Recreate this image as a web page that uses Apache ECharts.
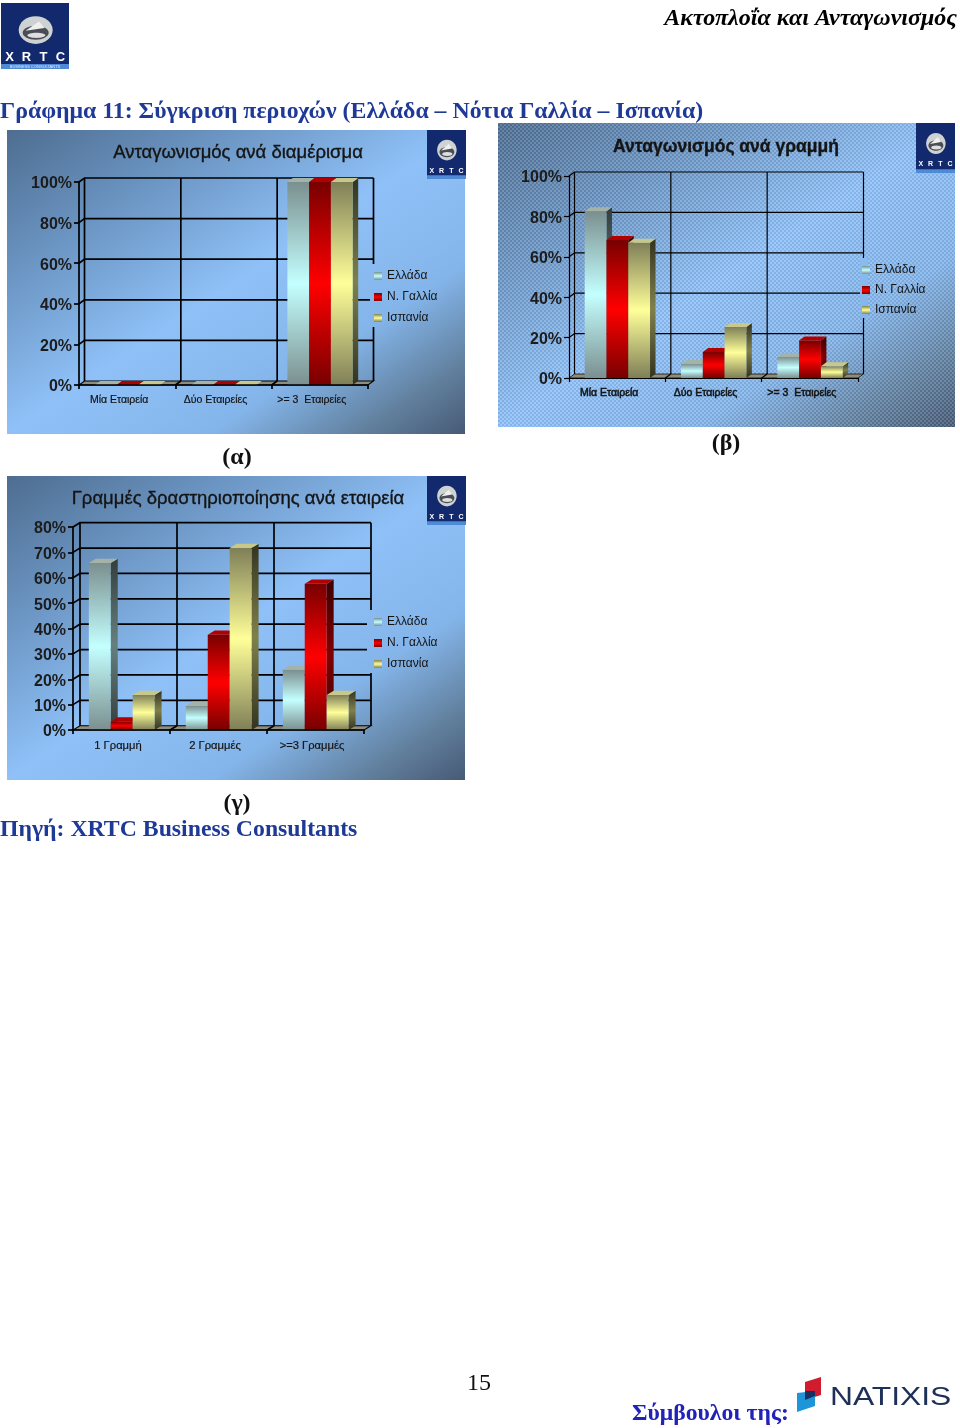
<!DOCTYPE html>
<html>
<head>
<meta charset="utf-8">
<style>html,body{margin:0;padding:0;background:#fff}#c{width:960px;height:1428px}</style>
<script src="https://cdn.jsdelivr.net/npm/echarts@6/dist/echarts.min.js"></script>
</head>
<body>
<div id="c"></div>
<script>
// ---- data ----
const seriesNames = ['Ελλάδα', 'Ν. Γαλλία', 'Ισπανία'];

const titleA = 'Ανταγωνισμός ανά διαμέρισμα';
const categoriesA = ['Μία Εταιρεία', 'Δύο Εταιρείες', '>= 3  Εταιρείες'];
const greeceA = [0, 0, 100];
const franceA = [0, 0, 100];
const spainA = [0, 0, 100];
const ticksA = [0, 20, 40, 60, 80, 100];

const titleB = 'Ανταγωνισμός ανά γραμμή';
const categoriesB = ['Μία Εταιρεία', 'Δύο Εταιρείες', '>= 3  Εταιρείες'];
const greeceB = [82.5, 6.9, 10.4];
const franceB = [68.3, 12.9, 18.6];
const spainB = [67, 25.2, 5.8];
const ticksB = [0, 20, 40, 60, 80, 100];

const titleC = 'Γραμμές δραστηριοποίησης ανά εταιρεία';
const categoriesC = ['1 Γραμμή', '2 Γραμμές', '>=3 Γραμμές'];
const greeceC = [65.8, 9.5, 23.7];
const franceC = [3.3, 37.5, 57.6];
const spainC = [13.8, 71.7, 13.8];
const ticksC = [0, 10, 20, 30, 40, 50, 60, 70, 80];

// ---- styling ----
const SANS = '"Liberation Sans", Arial, sans-serif';
const SERIF = '"Liberation Serif", "Times New Roman", serif';
const BLUE = '#1f3a96';
const ramps = [
  { end: '#7b8f8f', mid: '#c4ffff', sideEnd: '#333d3d', sideMid: '#66807f', top: '#a3b3a8' },
  { end: '#780000', mid: '#ff0000', sideEnd: '#3c0000', sideMid: '#800000', top: '#b00000' },
  { end: '#7f7f58', mid: '#ffff99', sideEnd: '#33331f', sideMid: '#80804c', top: '#c8c88a' }
];
function vgrad(a, b) {
  return { type: 'linear', x: 0, y: 0, x2: 0, y2: 1,
    colorStops: [{ offset: 0, color: a }, { offset: 0.5, color: b }, { offset: 1, color: a }] };
}

const panels = [
  { key: 'a', x: 7, y: 130, w: 458, h: 304 },
  { key: 'b', x: 498, y: 123, w: 457, h: 304 },
  { key: 'c', x: 7, y: 476, w: 458, h: 304 }
];
function panelGradient(p) {
  const n = Math.hypot(p.w, p.h), nx = p.h / n, ny = p.w / n, len = 2 * p.w * p.h / n;
  return new echarts.graphic.LinearGradient(p.x, p.y, p.x + nx * len, p.y + ny * len, [
    { offset: 0, color: '#4e6d90' }, { offset: 0.25, color: '#6c96c4' },
    { offset: 0.5, color: '#8fc1f8' }, { offset: 0.72, color: '#84b5ea' },
    { offset: 0.88, color: '#62819f' }, { offset: 1, color: '#475a75' }
  ], true);
}
function dither() {
  const cv = document.createElement('canvas'); cv.width = 4; cv.height = 4;
  const g = cv.getContext('2d');
  g.fillStyle = 'rgba(255,255,255,0.14)'; g.fillRect(0, 0, 2, 2); g.fillRect(2, 2, 2, 2);
  g.fillStyle = 'rgba(0,20,60,0.08)'; g.fillRect(2, 0, 2, 2); g.fillRect(0, 2, 2, 2);
  return cv;
}

function logo(x, y, w, h, big) {
  const s = w / 68;
  const kids = [
    { type: 'rect', shape: { x: 0, y: 0, width: w, height: h }, style: { fill: '#12296e' } },
    { type: 'rect', shape: { x: 0, y: h * 0.925, width: w, height: h * 0.075 }, style: { fill: '#4f8ad6' } },
    { type: 'ellipse', shape: { cx: w * 0.51, cy: h * 0.41, rx: 17 * s, ry: h * 0.21 }, style: { fill: '#cfd2d2' } },
    { type: 'ellipse', shape: { cx: w * 0.51, cy: h * 0.45, rx: 13 * s, ry: h * 0.105 }, style: { fill: '#4a4d55' } },
    { type: 'ellipse', shape: { cx: w * 0.52, cy: h * 0.49, rx: 9 * s, ry: h * 0.04 }, style: { fill: '#dedede' } },
    { type: 'polygon', shape: { points: [[w * 0.36, h * 0.42], [w * 0.56, h * 0.28], [w * 0.64, h * 0.38]] }, style: { fill: '#efefef' } }
  ];
  ['X', 'R', 'T', 'C'].forEach(function (ch, i) {
    kids.push({ type: 'text', style: { x: w * (0.125 + i * 0.25), y: h * 0.83, text: ch, fill: '#fff', align: 'center', verticalAlign: 'middle',
      font: 'bold ' + Math.max(7, Math.round(13 * s)) + 'px ' + SANS } });
  });
  if (big) kids.push({ type: 'text', style: { x: w / 2, y: h * 0.965, text: 'BUSINESS CONSULTANTS', fill: '#dce8f8',
    align: 'center', verticalAlign: 'middle', font: '4px ' + SANS } });
  return { type: 'group', x: x, y: y, z: 8, silent: true, children: kids };
}
function txt(x, y, text, font, fill, align) {
  return { type: 'text', z: 8, silent: true, style: { x: x, y: y + 1, text: text, font: font, fill: fill || '#000',
    align: align || 'left', verticalAlign: 'middle' } };
}

// ---- build ----
const charts = [
  { title: titleA, cats: categoriesA, vals: [greeceA, franceA, spainA], ticks: ticksA, max: 100, interval: 20,
    left: 79, top: 182, width: 289, height: 203, dx: 5.5, dy: 4, lw: 1.7, bold: 0,
    titleX: 238, titleY: 153, titleW: 'normal', titleS: 18.5, catSize: 10.5,
    lx: 374, ly: 269, gap: 7, labelPad: 16, patch: [370, 264, 8, 63] },
  { title: titleB, cats: categoriesB, vals: [greeceB, franceB, spainB], ticks: ticksB, max: 100, interval: 20,
    left: 569, top: 176, width: 289, height: 202, dx: 5.5, dy: 4, lw: 1.2, bold: 0.5,
    titleX: 726, titleY: 147, titleW: 'bold', titleS: 17.5, catSize: 10.5,
    lx: 862, ly: 263, gap: 6, labelPad: 16, patch: [860, 258, 8, 60] },
  { title: titleC, cats: categoriesC, vals: [greeceC, franceC, spainC], ticks: ticksC, max: 80, interval: 10,
    left: 73, top: 527, width: 291, height: 203, dx: 7, dy: 4.3, lw: 1.7, bold: 0,
    titleX: 238, titleY: 499, titleW: 'normal', titleS: 18.5, catSize: 11.2,
    lx: 374, ly: 615, gap: 7, labelPad: 7, patch: [367, 610, 8, 63] }
];

const option = { animation: false, backgroundColor: '#fff', title: [], grid: [], xAxis: [], yAxis: [], legend: [], series: [], graphic: [] };
const g = option.graphic;

panels.forEach(function (p) {
  g.push({ type: 'rect', z: -2, silent: true, shape: { x: p.x, y: p.y, width: p.w, height: p.h }, style: { fill: panelGradient(p) } });
});
const pb = panels[1];
g.push({ type: 'rect', z: -1, silent: true, shape: { x: pb.x, y: pb.y, width: pb.w, height: pb.h },
  style: { fill: { image: dither(), repeat: 'repeat' } } });

charts.forEach(function (c, i) {
  option.title.push({ text: c.title, left: c.titleX, top: c.titleY, textAlign: 'center', textVerticalAlign: 'middle', padding: 0, z: 8,
    textStyle: { fontFamily: SANS, fontSize: c.titleS, fontWeight: c.titleW, color: '#141414', textBorderColor: '#141414', textBorderWidth: 0.35 } });
  option.grid.push({ left: c.left, top: c.top, width: c.width, height: c.height, containLabel: false, show: false });
  option.xAxis.push({ type: 'category', gridIndex: i, data: c.cats,
    axisLine: { show: true, onZero: false, lineStyle: { color: '#000', width: c.lw } },
    axisTick: { show: true, length: 4, lineStyle: { color: '#000', width: c.lw } },
    splitLine: { show: false },
    axisLabel: { show: true, interval: 0, margin: 8, fontFamily: SANS, fontSize: c.catSize, color: '#141414',
      textBorderColor: '#141414', textBorderWidth: c.bold ? 0.5 : 0.2, padding: [2, c.labelPad, 0, 0] }, z: 5 });
  option.yAxis.push({ type: 'value', gridIndex: i, min: 0, max: c.max, interval: c.interval,
    axisLine: { show: true, lineStyle: { color: '#000', width: c.lw } },
    axisTick: { show: true, length: 5, lineStyle: { color: '#000', width: c.lw } },
    splitLine: { show: false },
    axisLabel: { show: true, margin: 7, fontFamily: SANS, fontSize: 16, fontWeight: 'bold', color: '#1c1c1c',
      verticalAlign: 'top', lineHeight: 4, formatter: '{value}%' }, z: 5 });
  option.legend.push({ orient: 'vertical', left: c.lx, top: c.ly, padding: 0, itemGap: c.gap, itemWidth: 8, itemHeight: 8, icon: 'rect',
    selectedMode: false, z: 9, data: seriesNames.slice(),
    textStyle: { fontFamily: SANS, fontSize: 12, color: '#141414', lineHeight: 14, padding: [0, 0, 0, 0] } });

  // walls: back grid, left connectors, floor
  option.series.push({
    type: 'custom', name: 'walls' + i, coordinateSystem: 'cartesian2d', xAxisIndex: i, yAxisIndex: i, z: 1, silent: true,
    clip: false, data: c.ticks.map(function (t) { return [0, t]; }), encode: { x: 0, y: 1 },
    renderItem: function (params, api) {
      const cs = params.coordSys, xL = cs.x, xR = cs.x + cs.width;
      const v = api.value(1), y = api.coord([0, v])[1], kids = [];
      const line = { stroke: '#000', lineWidth: c.lw, fill: null };
      if (v === 0) {
        kids.push({ type: 'polygon', shape: { points: [[xL, y], [xR, y], [xR + c.dx, y - c.dy], [xL + c.dx, y - c.dy]] },
          style: { fill: '#8f8d7c', stroke: '#000', lineWidth: c.lw * 0.6 } });
        const yTop = api.coord([0, c.max])[1];
        for (let k = 0; k <= 3; k++) {
          const xk = xL + k * cs.width / 3;
          kids.push({ type: 'line', shape: { x1: xk + c.dx, y1: y - c.dy, x2: xk + c.dx, y2: yTop - c.dy }, style: line });
          if (k > 0 && k < 3) kids.push({ type: 'line', shape: { x1: xk, y1: y, x2: xk + c.dx, y2: y - c.dy }, style: line });
        }
      } else {
        kids.push({ type: 'polyline', shape: { points: [[xL, y], [xL + c.dx, y - c.dy], [xR + c.dx, y - c.dy]] }, style: line });
      }
      return { type: 'group', children: kids };
    }
  });

  // 3-D columns
  seriesNames.forEach(function (name, si) {
    const r = ramps[si];
    option.series.push({
      type: 'custom', name: name, coordinateSystem: 'cartesian2d', xAxisIndex: i, yAxisIndex: i, z: 3 + si, silent: true, clip: false,
      itemStyle: { color: vgrad(r.end, r.mid) },
      data: c.vals[si].map(function (v, k) { return [k, v]; }), encode: { x: 0, y: 1 },
      renderItem: function (params, api) {
        const band = api.size([1, 0])[0], w = band * 0.226;
        const bottom = api.coord([api.value(0), 0]), top = api.coord([api.value(0), api.value(1)]);
        const x0 = bottom[0] + (si - 1.5) * w + 0.2, x1 = x0 + w, y0 = bottom[1], y1 = top[1];
        const kids = [];
        if (y0 - y1 > 0.1) {
          kids.push({ type: 'polygon', shape: { points: [[x1, y1], [x1 + c.dx, y1 - c.dy], [x1 + c.dx, y0 - c.dy], [x1, y0]] },
            style: { fill: vgrad(r.sideEnd, r.sideMid) } });
          kids.push({ type: 'rect', shape: { x: x0, y: y1, width: w, height: y0 - y1 }, style: { fill: vgrad(r.end, r.mid) } });
        }
        kids.push({ type: 'polygon', shape: { points: [[x0, y1], [x1, y1], [x1 + c.dx, y1 - c.dy], [x0 + c.dx, y1 - c.dy]] },
          style: { fill: r.top } });
        return { type: 'group', children: kids };
      }
    });
  });

  // legend clears the back wall behind it (same gradient as the panel)
  g.push({ type: 'rect', z: 2, silent: true, shape: { x: c.patch[0], y: c.patch[1], width: c.patch[2], height: c.patch[3] },
    style: { fill: panelGradient(panels[i]) } });
});

g.push(logo(1, 3, 68, 66, true));
g.push(logo(427, 130, 39, 49));
g.push(logo(916, 123, 39, 50));
g.push(logo(427, 476, 39, 49));

g.push(txt(957, 18, 'Ακτοπλοΐα και Ανταγωνισμός', 'italic bold 24px ' + SERIF, '#000', 'right'));
g.push(txt(0, 111, 'Γράφημα 11: Σύγκριση περιοχών (Ελλάδα – Νότια Γαλλία – Ισπανία)', 'bold 23.8px ' + SERIF, BLUE));
g.push(txt(237, 457, '(α)', 'bold 24px ' + SERIF, '#111', 'center'));
g.push(txt(726, 443, '(β)', 'bold 24px ' + SERIF, '#111', 'center'));
g.push(txt(237, 803, '(γ)', 'bold 24px ' + SERIF, '#111', 'center'));
g.push(txt(0, 829, 'Πηγή: XRTC Business Consultants', 'bold 23.75px ' + SERIF, BLUE));
g.push(txt(479, 1383, '15', '24px ' + SERIF, '#111', 'center'));
g.push(txt(632, 1413, 'Σύμβουλοι της:', 'bold 23.7px ' + SERIF, '#2222b8'));
g.push({ type: 'polygon', z: 8, silent: true, shape: { points: [[805, 1382], [821, 1377], [821, 1395], [805, 1400]] }, style: { fill: '#d01c2e' } });
g.push({ type: 'polygon', z: 8, silent: true, shape: { points: [[797, 1393], [815, 1391], [815, 1406], [797, 1412]] }, style: { fill: '#1d95d8' } });
g.push({ type: 'polygon', z: 9, silent: true, shape: { points: [[805, 1391], [815, 1391], [815, 1396], [805, 1400]] }, style: { fill: '#16305f' } });
g.push({ type: 'text', z: 8, silent: true, x: 830, y: 1398, scaleX: 1.2, style: { x: 0, y: 0, text: 'NATIXIS', font: '26.5px ' + SANS, fill: '#1c3058', verticalAlign: 'middle' } });

const chart = echarts.init(document.getElementById('c'), null, { renderer: 'canvas', width: 960, height: 1428 });
chart.setOption(option);
</script>
</body>
</html>
